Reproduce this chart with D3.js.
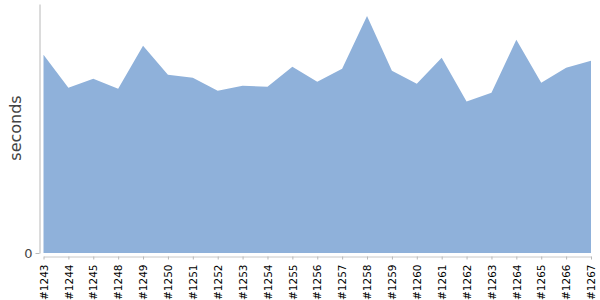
<!DOCTYPE html>
<html>
<head>
<meta charset="utf-8">
<script src="https://cdn.jsdelivr.net/npm/d3@7/dist/d3.min.js"></script>
<style>
  body { margin: 0; background: #fff; }
  svg { display: block; }
</style>
</head>
<body>
<svg id="chart" width="600" height="300"></svg>
<script>
// build numbers on the x axis
var builds = ["#1243", "#1244", "#1245", "#1248", "#1249", "#1250", "#1251", "#1252",
              "#1253", "#1254", "#1255", "#1256", "#1257", "#1258", "#1259", "#1260",
              "#1261", "#1262", "#1263", "#1264", "#1265", "#1266", "#1267"];

// build duration, seconds
var durations = [199, 166, 175, 165, 208, 179, 176, 163,
                 168, 167, 187, 172, 185, 238, 183, 170,
                 196, 152, 161, 214, 171, 186, 193];

var yTicks = [0];
var yMax = 250;

var svg = d3.select("#chart"),
    width = +svg.attr("width"),
    height = +svg.attr("height");

var x = d3.scalePoint()
    .domain(builds)
    .range([43.5, 591]);

var y = d3.scaleLinear()
    .domain([0, yMax])
    .range([253, 4]);

var data = builds.map(function (b, i) { return { build: b, value: durations[i] }; });

var area = d3.area()
    .x(function (d) { return x(d.build); })
    .y0(y(0))
    .y1(function (d) { return y(d.value); });

svg.append("path")
    .datum(data)
    .attr("fill", "#8fb1da")
    .attr("d", area);

// y axis
var yAxis = svg.append("g")
    .attr("transform", "translate(39.5,0)")
    .call(d3.axisLeft(y).tickValues(yTicks).tickSize(4).tickPadding(3).tickSizeOuter(0));
yAxis.select(".domain").attr("stroke", "#b8b8b8");
yAxis.selectAll(".tick line").attr("stroke", "#b8b8b8");
yAxis.selectAll("text")
    .attr("font-family", "DejaVu Sans, sans-serif")
    .attr("font-size", 13)
    .attr("fill", "#444");

// x axis
var xAxis = svg.append("g")
    .attr("transform", "translate(0,256.5)")
    .call(d3.axisBottom(x).tickSize(3).tickSizeOuter(0));
xAxis.select(".domain").attr("stroke", "#c8c8c8");
xAxis.selectAll(".tick line").attr("stroke", "#b8b8b8");
xAxis.selectAll("text")
    .attr("font-family", "DejaVu Sans, sans-serif")
    .attr("font-size", 10.5)
    .attr("fill", "#000")
    .attr("transform", "rotate(-90)")
    .attr("text-anchor", "end")
    .attr("x", -8)
    .attr("y", 0)
    .attr("dy", "0.35em");

// axis title
svg.append("text")
    .attr("transform", "translate(21,128) rotate(-90)")
    .attr("text-anchor", "middle")
    .attr("font-family", "DejaVu Sans, sans-serif")
    .attr("font-size", 16)
    .attr("fill", "#444")
    .text("seconds");
</script>
</body>
</html>
